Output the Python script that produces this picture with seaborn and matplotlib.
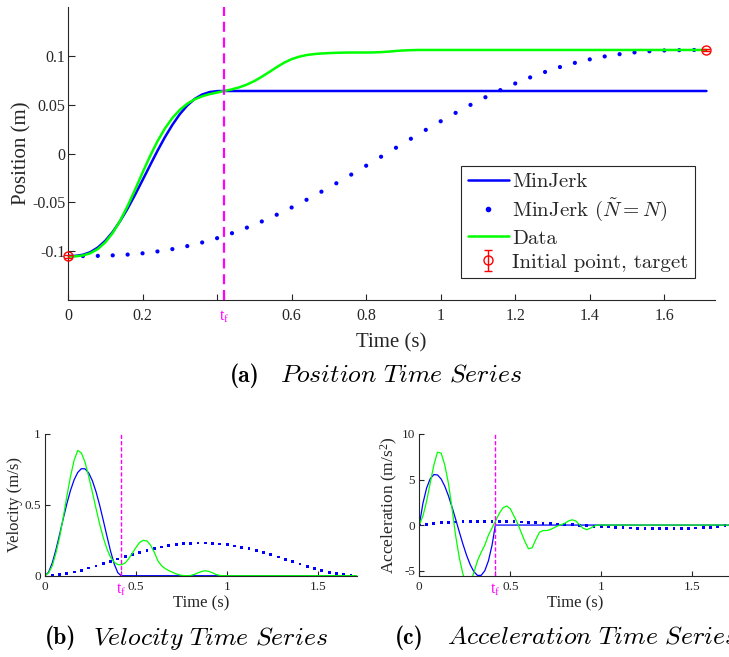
import numpy as np
import matplotlib
matplotlib.use("Agg")
import matplotlib.pyplot as plt
from matplotlib.lines import Line2D
from matplotlib.font_manager import FontProperties
import seaborn as sns

# ---------------- data ----------------
TF = 0.418
T_END = 1.713
START = -0.105
TARGET = 0.106

# MinJerk (solid), sampled times
T_MJ = [0.00, 0.02, 0.04, 0.06, 0.08, 0.10, 0.12, 0.14, 0.16, 0.18, 0.20,
        0.22, 0.24, 0.26, 0.28, 0.30, 0.32, 0.34, 0.36, 0.38, 0.40, 0.418, 1.713]
POS_MJ = [-0.1050, -0.1048, -0.1037, -0.1010, -0.0963, -0.0894, -0.0803, -0.0691,
          -0.0563, -0.0422, -0.0273, -0.0122, 0.0027, 0.0167, 0.0293, 0.0403,
          0.0492, 0.0559, 0.0604, 0.0629, 0.0639, 0.0640, 0.0640]
VEL_MJ = [0.0, 0.0252, 0.0908, 0.1833, 0.2905, 0.4018, 0.5080, 0.6018, 0.6770,
          0.7292, 0.7553, 0.7539, 0.7251, 0.6705, 0.5931, 0.4979, 0.3907, 0.2794,
          0.1732, 0.0828, 0.0206, 0.0, 0.0]
ACC_MJ = [0.0, 2.391, 4.061, 5.086, 5.543, 5.508, 5.058, 4.268, 3.214, 1.974,
          0.624, -0.762, -2.104, -3.329, -4.360, -5.119, -5.532, -5.521, -5.010,
          -3.924, -2.185, 0.0, 0.0]

# MinJerk (N~ = N), dots every 0.04 s
T_DOTS = [0.00, 0.04, 0.08, 0.12, 0.16, 0.20, 0.24, 0.28, 0.32, 0.36, 0.40,
          0.44, 0.48, 0.52, 0.56, 0.60, 0.64, 0.68, 0.72, 0.76, 0.80, 0.84,
          0.88, 0.92, 0.96, 1.00, 1.04, 1.08, 1.12, 1.16, 1.20, 1.24, 1.28,
          1.32, 1.36, 1.40, 1.44, 1.48, 1.52, 1.56, 1.60, 1.64, 1.68]
POS_DOTS = [-0.1050, -0.1050, -0.1048, -0.1043, -0.1035, -0.1022, -0.1003, -0.0979,
            -0.0948, -0.0911, -0.0867, -0.0816, -0.0759, -0.0696, -0.0627, -0.0553,
            -0.0474, -0.0391, -0.0305, -0.0216, -0.0125, -0.0033, 0.0059, 0.0151,
            0.0242, 0.0330, 0.0416, 0.0498, 0.0576, 0.0649, 0.0717, 0.0779, 0.0835,
            0.0885, 0.0928, 0.0964, 0.0994, 0.1017, 0.1035, 0.1047, 0.1055, 0.1058,
            0.1060]
VEL_DOTS = [0.0, 0.0019, 0.0073, 0.0157, 0.0265, 0.0393, 0.0536, 0.0691, 0.0853,
            0.1018, 0.1184, 0.1346, 0.1503, 0.1652, 0.1789, 0.1914, 0.2024, 0.2118,
            0.2194, 0.2251, 0.2290, 0.2308, 0.2306, 0.2284, 0.2243, 0.2182, 0.2103,
            0.2006, 0.1893, 0.1766, 0.1626, 0.1476, 0.1318, 0.1155, 0.0989, 0.0824,
            0.0663, 0.0510, 0.0369, 0.0245, 0.0140, 0.0062, 0.0013]
ACC_DOTS = [0.0, 0.0938, 0.1741, 0.2417, 0.2971, 0.3410, 0.3741, 0.3970, 0.4105,
            0.4151, 0.4115, 0.4004, 0.3825, 0.3583, 0.3286, 0.2940, 0.2552, 0.2128,
            0.1675, 0.1200, 0.0709, 0.0208, -0.0296, -0.0795, -0.1284, -0.1756,
            -0.2205, -0.2623, -0.3004, -0.3342, -0.3630, -0.3861, -0.4029, -0.4127,
            -0.4149, -0.4088, -0.3937, -0.3691, -0.3341, -0.2882, -0.2307, -0.1610,
            -0.0784]

# Data (green)
T_DATA = [0.00, 0.02, 0.04, 0.06, 0.08, 0.10, 0.12, 0.14, 0.16, 0.18, 0.20,
          0.22, 0.24, 0.26, 0.28, 0.30, 0.32, 0.34, 0.36, 0.38, 0.40, 0.42,
          0.44, 0.46, 0.48, 0.50, 0.52, 0.54, 0.56, 0.58, 0.60, 0.62, 0.64,
          0.66, 0.68, 0.70, 0.72, 0.74, 0.76, 0.78, 0.80, 0.82, 0.84, 0.86,
          0.88, 0.90, 0.92, 0.94, 0.96, 0.98, 1.00, 1.713]
POS_DATA = [-0.1055, -0.1053, -0.1044, -0.1021, -0.0978, -0.0910, -0.0813, -0.0687,
            -0.0537, -0.0370, -0.0196, -0.0028, 0.0125, 0.0256, 0.0363, 0.0447,
            0.0510, 0.0555, 0.0586, 0.0608, 0.0624, 0.0640, 0.0657, 0.0678, 0.0706,
            0.0742, 0.0786, 0.0834, 0.0884, 0.0930, 0.0966, 0.0991, 0.1008, 0.1018,
            0.1024, 0.1028, 0.1031, 0.1033, 0.1034, 0.1034, 0.1034, 0.1035, 0.1038,
            0.1043, 0.1050, 0.1055, 0.1058, 0.1060, 0.1060, 0.1060, 0.1060, 0.1060]
VEL_DATA = [0.000, 0.020, 0.070, 0.160, 0.270, 0.410, 0.560, 0.700, 0.815, 0.884,
            0.866, 0.800, 0.700, 0.590, 0.475, 0.365, 0.268, 0.190, 0.130, 0.095,
            0.078, 0.077, 0.090, 0.120, 0.160, 0.200, 0.235, 0.250, 0.245, 0.215,
            0.165, 0.105, 0.070, 0.050, 0.036, 0.024, 0.013, 0.005, 0.001, 0.000,
            0.002, 0.009, 0.020, 0.030, 0.035, 0.030, 0.020, 0.008, 0.002, 0.000,
            0.000, 0.000]
ACC_DATA = [0.0, 1.0, 2.6, 4.6, 6.6, 8.0, 7.9, 6.6, 4.6, 1.8, -1.2, -3.6, -5.4,
            -6.6, -6.4, -5.2, -3.9, -3.0, -2.2, -1.1, -0.3, 0.5, 1.3, 1.9, 2.1,
            1.8, 1.0, 0.2, -0.8, -1.8, -2.6, -2.5, -1.6, -0.8, -0.6, -0.6, -0.5,
            -0.3, -0.1, 0.05, 0.2, 0.45, 0.58, 0.45, 0.05, -0.35, -0.5, -0.35,
            -0.12, 0.0, 0.0, 0.0]

ENDPOINT_T = [0.0, T_END]
ENDPOINT_Y = [START, TARGET]
ENDPOINT_ERR = [0.0015, 0.0015]

# ---------------- style ----------------
sns.set_style("ticks")
plt.rcParams["font.family"] = ["Liberation Serif", "DejaVu Serif"]
plt.rcParams["axes.unicode_minus"] = False
plt.rcParams["mathtext.fontset"] = "custom"
plt.rcParams["mathtext.rm"] = "Liberation Serif"
plt.rcParams["mathtext.it"] = "Liberation Serif:italic"
plt.rcParams["mathtext.bf"] = "Liberation Serif:bold"

AX_COL = "#262626"
BLUE = "#0000FF"
GREEN = "#00FF00"
MAG = "#FF00FF"
RED = "#FF0000"

W, H = 729, 657
fig = plt.figure(figsize=(W / 100, H / 100), dpi=100)


def ax_rect(x0, x1, y0, y1):
    return [x0 / W, 1 - y1 / H, (x1 - x0) / W, (y1 - y0) / H]


ax_a = fig.add_axes(ax_rect(68, 715, 7, 300))
ax_b = fig.add_axes(ax_rect(45, 357, 434, 575.7))
ax_c = fig.add_axes(ax_rect(419.3, 731, 434, 575.7))


def style_axis(ax, tick_len, tick_size, pad_x, pad_y):
    sns.despine(ax=ax)
    for s in ("left", "bottom"):
        ax.spines[s].set_color(AX_COL)
        ax.spines[s].set_linewidth(0.8)
    ax.tick_params(direction="in", length=tick_len, width=0.8, colors=AX_COL,
                   labelsize=tick_size, labelcolor=AX_COL)
    ax.tick_params(axis="x", pad=pad_x)
    ax.tick_params(axis="y", pad=pad_y)
    ax.set_facecolor("white")


tf_label = r"$\mathregular{t_f}$"

# ---------------- (a) position ----------------
sns.lineplot(x=T_MJ, y=POS_MJ, ax=ax_a, color=BLUE, lw=1.8, sort=False)
sns.scatterplot(x=T_DOTS, y=POS_DOTS, ax=ax_a, color=BLUE, s=9, edgecolor="none")
sns.lineplot(x=T_DATA, y=POS_DATA, ax=ax_a, color=GREEN, lw=1.8, sort=False)
eb = ax_a.errorbar(ENDPOINT_T, ENDPOINT_Y, yerr=ENDPOINT_ERR, fmt="o", color=RED,
                   mfc="none", mec=RED, ms=6.5, mew=1.0, elinewidth=1.0,
                   capsize=3, zorder=5, clip_on=False)
ax_a.axvline(TF, color=MAG, lw=1.6, dashes=(4.5, 2.6), zorder=4)
ax_a.set_xlim(0, 1.736)
ax_a.set_ylim(-0.15, 0.15)
xt = [0, 0.2, 0.4, TF, 0.6, 0.8, 1.0, 1.2, 1.4, 1.6]
ax_a.set_xticks(xt)
ax_a.set_xticklabels(["0", "0.2", "", tf_label, "0.6", "0.8", "1", "1.2", "1.4", "1.6"])
ax_a.set_yticks([-0.1, -0.05, 0, 0.05, 0.1])
ax_a.set_yticklabels(["-0.1", "-0.05", "0", "0.05", "0.1"])
style_axis(ax_a, 6.5 * 0.72, 11.5, 6, 2)
ax_a.get_xticklabels()[3].set_color(MAG)
ax_a.set_xlabel("Time (s)", fontsize=15, color=AX_COL, labelpad=6)
ax_a.set_ylabel("Position (m)", fontsize=15, color=AX_COL, labelpad=0)

leg_props = FontProperties(family="cmr10", size=15, math_fontfamily="cm")
handles = [
    Line2D([], [], color=BLUE, lw=1.8),
    Line2D([], [], color=BLUE, lw=0, marker="o", ms=3),
    Line2D([], [], color=GREEN, lw=1.8),
    eb,
]
labels = ["MinJerk", r"MinJerk ($\tilde{N} = N$)", "Data", "Initial point, target"]
leg = ax_a.legend(handles, labels, loc="lower right", bbox_to_anchor=(0.969, 0.075),
                  borderaxespad=0, prop=leg_props, frameon=True, fancybox=False,
                  framealpha=1, edgecolor=AX_COL, handlelength=2.0,
                  handletextpad=0.15, labelspacing=0.27, borderpad=0.3)
leg.get_frame().set_linewidth(0.8)

# ---------------- (b) velocity ----------------
sns.lineplot(x=T_MJ, y=VEL_MJ, ax=ax_b, color=BLUE, lw=0.9, sort=False)
sns.scatterplot(x=T_DOTS, y=VEL_DOTS, ax=ax_b, color=BLUE, s=4, marker="s",
                edgecolor="none")
sns.lineplot(x=T_DATA, y=VEL_DATA, ax=ax_b, color=GREEN, lw=0.9, sort=False)
ax_b.axvline(TF, color=MAG, lw=1.0, dashes=(3, 1.5), zorder=4)
ax_b.set_xlim(0, 1.713)
ax_b.set_ylim(0, 1)
ax_b.set_xticks([0, TF, 0.5, 1.0, 1.5])
ax_b.set_xticklabels(["0", tf_label, "0.5", "1", "1.5"])
ax_b.set_yticks([0, 0.5, 1])
ax_b.set_yticklabels(["0", "0.5", "1"])
style_axis(ax_b, 3.5, 9.5, 4, 3)
ax_b.get_xticklabels()[1].set_color(MAG)
ax_b.get_xticklabels()[1].set_fontsize(11.5)
ax_b.set_xlabel("Time (s)", fontsize=12, color=AX_COL, labelpad=-1.5)
ax_b.set_ylabel("Velocity (m/s)", fontsize=12, color=AX_COL, labelpad=1)

# ---------------- (c) acceleration ----------------
sns.lineplot(x=T_MJ, y=ACC_MJ, ax=ax_c, color=BLUE, lw=0.9, sort=False)
sns.scatterplot(x=T_DOTS, y=ACC_DOTS, ax=ax_c, color=BLUE, s=4, marker="s",
                edgecolor="none")
sns.lineplot(x=T_DATA, y=ACC_DATA, ax=ax_c, color=GREEN, lw=0.9, sort=False)
ax_c.axvline(TF, color=MAG, lw=1.0, dashes=(3, 1.5), zorder=4)
ax_c.set_xlim(0, 1.713)
ax_c.set_ylim(-5.56, 10)
ax_c.set_xticks([0, TF, 0.5, 1.0, 1.5])
ax_c.set_xticklabels(["0", tf_label, "0.5", "1", "1.5"])
ax_c.set_yticks([-5, 0, 5, 10])
ax_c.set_yticklabels(["-5", "0", "5", "10"])
style_axis(ax_c, 3.5, 9.5, 4, 3)
ax_c.get_xticklabels()[1].set_color(MAG)
ax_c.get_xticklabels()[1].set_fontsize(11.5)
ax_c.set_xlabel("Time (s)", fontsize=12, color=AX_COL, labelpad=-1.5)
ax_c.set_ylabel(r"Acceleration (m/s$^2$)", fontsize=12.5, color=AX_COL, labelpad=1)

# ---------------- captions ----------------
BOLD = FontProperties(family="cmb10", size=17)
IT_SIZE = 18.5


def caption(tag, text, x_tag, x_text, y):
    fig.text(x_tag / W, 1 - y / H, tag, ha="left", va="center", fontproperties=BOLD,
             color="black")
    fig.text(x_text / W, 1 - y / H, r"$\mathit{" + text.replace(" ", r"\ ") + "}$",
             ha="left", va="center", fontsize=IT_SIZE, math_fontfamily="cm",
             color="black")


caption("(a)", "Position Time Series", 230, 280, 376)
caption("(b)", "Velocity Time Series", 45, 93, 638)
caption("(c)", "Acceleration Time Series", 395, 446.7, 638)

fig.savefig("out.png", dpi=100)
